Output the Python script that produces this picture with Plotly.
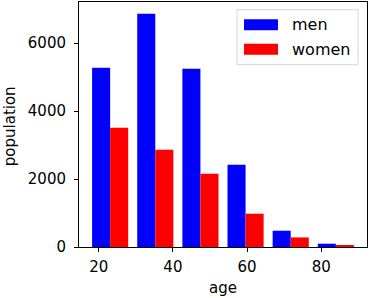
import plotly.graph_objects as go

# Data (histogram counts)
bin_edges = [17.0, 29.1667, 41.3333, 53.5, 65.6667, 77.8333, 90.0]
men = [5274, 6862, 5244, 2421, 479, 97]
women = [3509, 2862, 2156, 979, 282, 47]
series_names = ["men", "women"]
series_colors = ["#0000ff", "#ff0000"]
x_ticks = [20, 40, 60, 80]
y_ticks = [0, 2000, 4000, 6000]
x_label = "age"
y_label = "population"

bin_centers = [(a + b) / 2 for a, b in zip(bin_edges[:-1], bin_edges[1:])]

fig = go.Figure()
for name, vals, col in zip(series_names, [men, women], series_colors):
    fig.add_trace(go.Bar(x=bin_centers, y=vals, name=name, marker_color=col,
                         marker_line_width=0, showlegend=False))

font_family = "DejaVu Sans"
tick_font = dict(family=font_family, size=15, color="black")
axis_common = dict(showline=True, linecolor="black", linewidth=1, mirror=True,
                   ticks="outside", ticklen=4, tickwidth=1, tickcolor="black",
                   showgrid=False, zeroline=False, automargin=False,
                   tickfont=tick_font)

L, R, T, B = 79, 367, 2.3, 247.3
fig.update_layout(
    width=370, height=298,
    margin=dict(l=L, r=370 - R, t=T, b=298 - B),
    paper_bgcolor="white", plot_bgcolor="white",
    barmode="group", bargap=0.2, bargroupgap=0,
    font=dict(family=font_family, size=15, color="black"),
    xaxis=dict(range=[14.69, 92.31], tickvals=x_ticks, ticklabelstandoff=2, **axis_common),
    yaxis=dict(range=[0, 7206], tickvals=y_ticks, ticklabelstandoff=5, **axis_common),
)

def px_x(p):
    return (p - L) / (R - L)

def px_y(p):
    return (B - p) / (B - T)

# Axis titles
fig.add_annotation(xref="paper", yref="paper", x=0.5, y=px_y(288),
                   xanchor="center", yanchor="middle", showarrow=False,
                   text=x_label, font=dict(family=font_family, size=15, color="black"))
fig.add_annotation(xref="paper", yref="paper", x=px_x(10), y=px_y(126.5),
                   xanchor="center", yanchor="middle", showarrow=False, textangle=-90,
                   text=y_label, font=dict(family=font_family, size=15, color="black"))

# Legend drawn manually (matplotlib-style wide swatches)
fig.add_shape(type="rect", xref="paper", yref="paper",
              x0=px_x(237), x1=px_x(358), y0=px_y(65), y1=px_y(10),
              line=dict(color="#d4d4d4", width=1), fillcolor="rgba(255,255,255,0.8)")
legend_rows = [25, 49.5]
for name, col, cy in zip(series_names, series_colors, legend_rows):
    fig.add_shape(type="rect", xref="paper", yref="paper",
                  x0=px_x(244), x1=px_x(278), y0=px_y(cy + 5.5), y1=px_y(cy - 5.5),
                  line=dict(width=0), fillcolor=col)
    fig.add_annotation(xref="paper", yref="paper", x=px_x(290), y=px_y(cy),
                       xanchor="left", yanchor="middle", showarrow=False,
                       text=name, font=dict(family=font_family, size=16, color="black"))

fig.write_html("out.html", config={"displayModeBar": False},
               post_script="document.body.style.margin='0';document.body.style.overflow='hidden';")
